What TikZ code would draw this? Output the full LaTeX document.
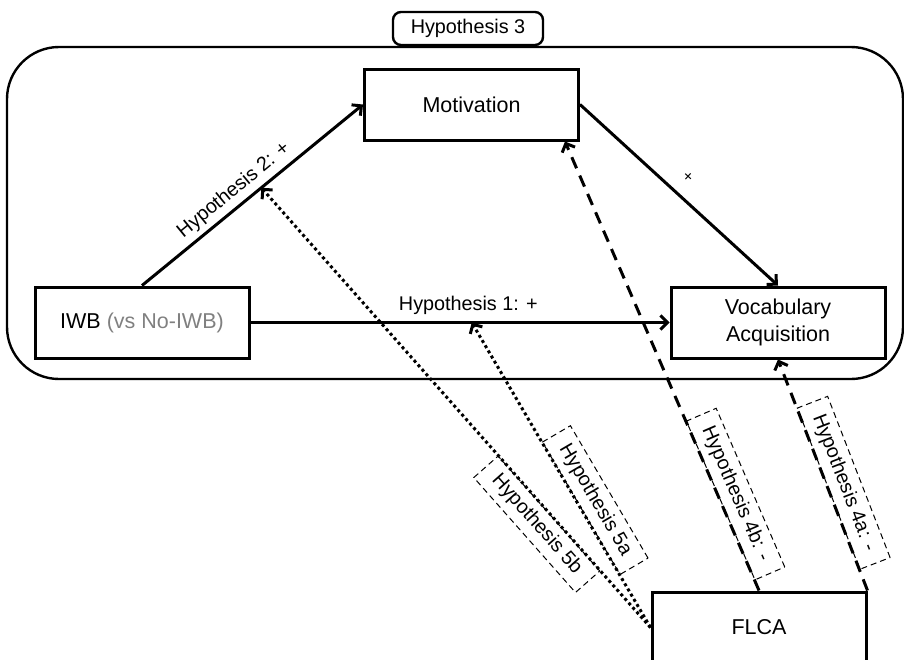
\documentclass[tikz,border=0pt]{standalone}
\usepackage{fontspec}
\setmainfont{Liberation Sans}
\usetikzlibrary{arrows.meta}
\definecolor{greytext}{RGB}{128,128,128}

\begin{document}
\begin{tikzpicture}[x=0.5pt, y=-0.5pt, thick,
    main/.style = {draw, line width=1.5pt, minimum width=107pt, minimum height=35.5pt, align=center, font=\fontsize{10.75}{13.3}\selectfont},
    lbl/.style = {font=\fontsize{9.9}{12}\selectfont},
    hyp/.style = {lbl, draw, sloped, line width=0.5pt, dash pattern=on 3pt off 2pt, inner xsep=7pt, inner ysep=3.5pt},
    arr/.style = {line width=1.5pt, -{Straight Barb[length=3.5pt,width=7pt]}},
    dots/.style = {dash pattern=on 1.5pt off 1.5pt},
    longdash/.style = {dash pattern=on 6pt off 4pt}]
    \useasboundingbox (0,0) rectangle (904,659);

    % Riquadro dell'ipotesi 3
    \draw[line width=1.2pt, rounded corners=26pt] (7,47) rectangle (903,379);
    \node[lbl, draw, fill=white, line width=1.2pt, rounded corners=4pt, minimum width=75pt, minimum height=16.5pt] (H3) at (468,28.5) {Hypothesis 3};

    % Disegna i nodi
    \node[main] (Motivation) at (471.5,104.5) {Motivation};
    \node[main] (IWB) at (142,322.5) {IWB \textcolor{greytext}{(vs No-IWB)}};
    \node[main] (Vocab) at (778,322.5) {Vocabulary\\Acquisition};
    \node[main] (FLCA) at (759,627.5) {FLCA};

    % Disegna gli archi
    \draw[arr] (IWB.north) -- node[lbl, sloped, above=-1pt, pos=0.46] {Hypothesis 2: +} coordinate[pos=0.54] (h2) (Motivation.west);
    \draw[arr] (Motivation.east) -- node[font=\fontsize{8}{9}\selectfont, sloped, above=3pt, pos=0.48] {+} (Vocab.north);
    \draw[arr] (IWB.east) -- node[lbl, above, pos=0.52] {Hypothesis 1: +} coordinate[pos=0.528] (h1) (Vocab.west);

    % Moderazione di FLCA
    \draw[arr, dots] (FLCA.west) -- node[hyp, below, pos=0.26] {Hypothesis 5b} (h2);
    \draw[arr, dots] (FLCA.west) -- node[hyp, above, pos=0.39] {Hypothesis 5a} (h1);
    \draw[arr, longdash] (FLCA.north) -- node[hyp, above, pos=0.2] {Hypothesis 4b: -} ([xshift=-7.5pt]Motivation.south east);
    \draw[arr, longdash] (FLCA.north east) -- node[hyp, above, pos=0.44] {Hypothesis 4a: -} (Vocab.south);
\end{tikzpicture}
\end{document}
